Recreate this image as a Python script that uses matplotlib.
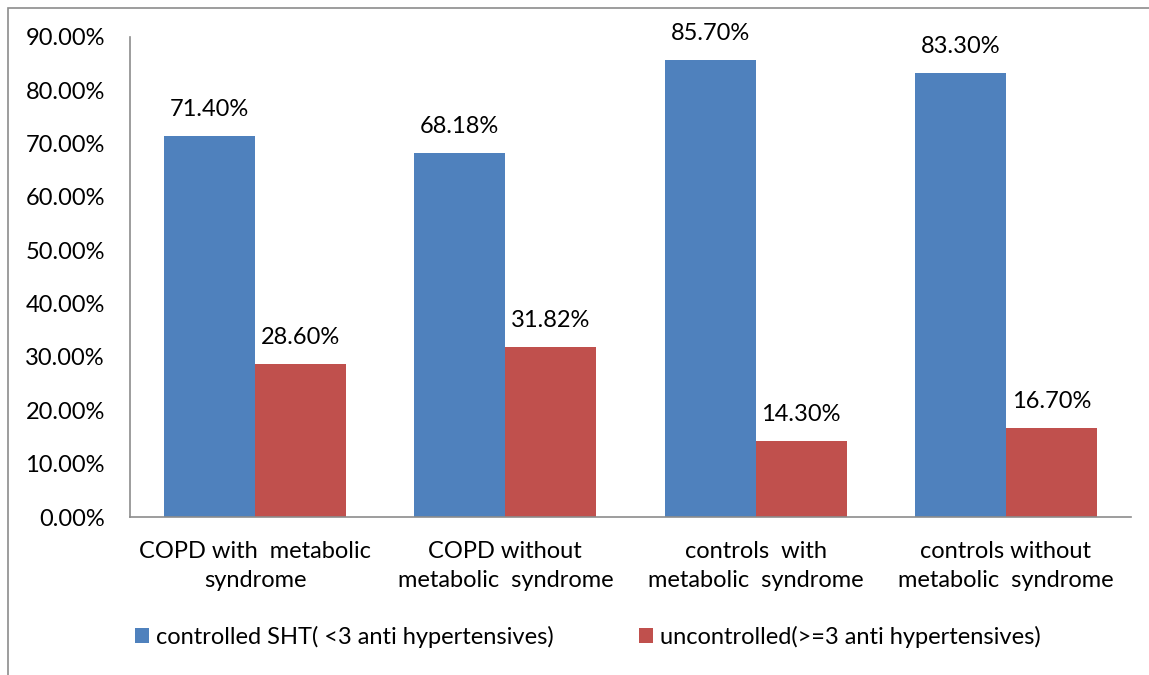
import numpy as np
import matplotlib.pyplot as plt
from matplotlib.patches import Rectangle

plt.rcParams['font.family'] = ['Lato', 'DejaVu Sans']

categories = ['COPD with  metabolic\nsyndrome', 'COPD without\nmetabolic  syndrome',
              'controls  with\nmetabolic  syndrome', 'controls without\nmetabolic  syndrome']
controlled = [71.40, 68.18, 85.70, 83.30]
uncontrolled = [28.60, 31.82, 14.30, 16.70]
series_names = ['controlled SHT( <3 anti hypertensives)', 'uncontrolled(>=3 anti hypertensives)']
blue = '#4F81BD'
red = '#C0504D'
fs = 17

fig = plt.figure(figsize=(11.49, 6.75), dpi=100)
# outer chart frame
fig.add_artist(Rectangle((8/1149, -0.05), 1.2, 1 - 8/675 + 0.05, transform=fig.transFigure,
                         fill=False, edgecolor='#8c8c8c', lw=1.2))

ax = fig.add_axes([130/1149, 1 - 517/675, 1001/1149, 480/675])
x = np.arange(len(categories))
w = 0.364
b1 = ax.bar(x - w/2, controlled, w, color=blue, label=series_names[0])
b2 = ax.bar(x + w/2, uncontrolled, w, color=red, label=series_names[1])

for bars, vals in [(b1, controlled), (b2, uncontrolled)]:
    for r, v in zip(bars, vals):
        ax.text(r.get_x() + r.get_width()/2, v + 5.0, f'{v:.2f}%', ha='center', va='center',
                fontsize=fs)

ax.set_xlim(-0.5, 3.5)
ax.set_ylim(0, 90)
ax.set_yticks(np.arange(0, 91, 10))
ax.set_yticklabels([f'{t:.2f}%' for t in np.arange(0, 91, 10)], fontsize=fs)
ax.set_xticks(x)
ax.set_xticklabels(categories, fontsize=fs, linespacing=1.5)
ax.tick_params(length=0, pad=18, axis='y')
ax.tick_params(axis='x', length=0, pad=17)
for s in ['top', 'right']:
    ax.spines[s].set_visible(False)
for s in ['left', 'bottom']:
    ax.spines[s].set_color('#8c8c8c')
    ax.spines[s].set_linewidth(1.2)

fig.legend(handles=[b1, b2], loc='center', bbox_to_anchor=(588/1149, 1 - 637/675), ncol=2,
           frameon=False, fontsize=fs, handlelength=0.6, handleheight=0.6, handletextpad=0.3,
           columnspacing=3.6)

fig.savefig('out.png', dpi=100)
